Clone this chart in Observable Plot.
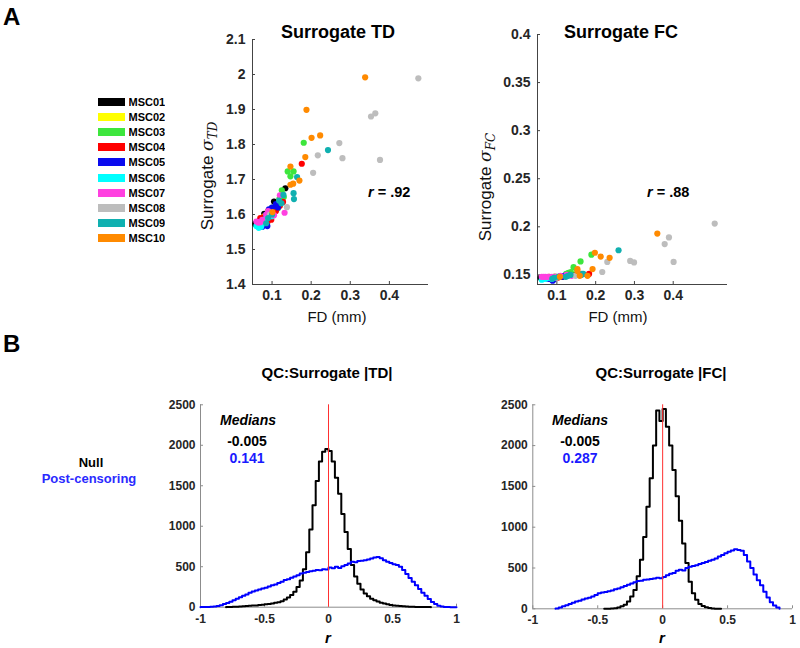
<!DOCTYPE html>
<html><head><meta charset="utf-8">
<script src="https://cdn.jsdelivr.net/npm/d3@7"></script>
<script src="https://cdn.jsdelivr.net/npm/@observablehq/plot@0.6"></script>
<style>
html,body{margin:0;padding:0;background:#fff;}
#page{position:relative;width:800px;height:648px;overflow:hidden;font-family:"Liberation Sans",Arial,sans-serif;background:#fff;}
.panel{position:absolute;}
.panel svg{display:block;max-width:none;}
.msclg-swatch{height:15.2px;padding-bottom:0 !important;}
.msclg-swatch > svg{margin-right:3.5px !important;}
</style></head><body><div id="page"></div><script>
// ---------- data ----------
const subjects = ["MSC01","MSC02","MSC03","MSC04","MSC05","MSC06","MSC07","MSC08","MSC09","MSC10"];
const subjectColors = ["#000000","#ffff00","#3de63d","#ff0000","#0a0aee","#00ffff","#ff40e0","#bdbdbd","#10b0b0","#ff8a00"];
const sessionsPerSubject = [10,10,9,10,10,10,10,10,10,10];

// FD (mm) as plotted in the TD panel, grouped by subject
const fdTD = [
  0.134,0.105,0.057,0.080,0.090,0.070,0.115,0.095,0.082,0.065,
  0.090,0.110,0.120,0.080,0.100,0.085,0.095,0.075,0.105,0.125,
  0.181,0.140,0.155,0.147,0.125,0.119,0.115,0.100,0.130,
  0.176,0.128,0.098,0.078,0.088,0.110,0.070,0.120,0.093,0.083,
  0.100,0.085,0.075,0.088,0.110,0.092,0.080,0.070,0.115,0.087,
  0.066,0.072,0.078,0.085,0.090,0.095,0.070,0.060,0.082,0.100,
  0.132,0.070,0.060,0.075,0.085,0.095,0.105,0.120,0.065,0.090,
  0.474,0.353,0.364,0.272,0.217,0.280,0.376,0.205,0.138,0.095,
  0.243,0.164,0.155,0.156,0.129,0.124,0.118,0.090,0.085,0.100,
  0.338,0.188,0.201,0.223,0.185,0.147,0.170,0.154,0.147,0.101
];
const sigmaTD = [
  1.675,1.637,1.573,1.602,1.610,1.585,1.630,1.595,1.580,1.578,
  1.610,1.625,1.645,1.595,1.605,1.590,1.600,1.585,1.615,1.640,
  1.805,1.723,1.723,1.709,1.669,1.645,1.618,1.620,1.650,
  1.745,1.636,1.585,1.592,1.578,1.610,1.590,1.625,1.600,1.570,
  1.620,1.600,1.565,1.567,1.630,1.615,1.585,1.580,1.620,1.590,
  1.562,1.565,1.575,1.590,1.600,1.605,1.570,1.567,1.585,1.595,
  1.605,1.578,1.580,1.585,1.600,1.598,1.598,1.655,1.577,1.610,
  1.989,1.880,1.889,1.804,1.769,1.761,1.756,1.719,1.621,1.600,
  1.784,1.707,1.661,1.644,1.656,1.632,1.640,1.590,1.575,1.600,
  1.992,1.899,1.819,1.826,1.764,1.737,1.697,1.688,1.685,1.607
];
// FD (mm) as plotted in the FC panel
const fdFC = [
  0.140,0.109,0.058,0.082,0.093,0.071,0.120,0.098,0.084,0.066,
  0.093,0.115,0.125,0.082,0.104,0.087,0.098,0.077,0.109,0.131,
  0.189,0.143,0.161,0.152,0.130,0.124,0.120,0.104,0.136,
  0.183,0.133,0.102,0.080,0.091,0.114,0.071,0.124,0.096,0.085,
  0.104,0.088,0.077,0.091,0.114,0.095,0.082,0.071,0.119,0.089,
  0.067,0.073,0.080,0.087,0.093,0.098,0.071,0.061,0.084,0.104,
  0.138,0.071,0.061,0.077,0.087,0.098,0.109,0.125,0.066,0.093,
  0.507,0.378,0.389,0.289,0.230,0.299,0.401,0.217,0.148,0.099,
  0.259,0.168,0.163,0.164,0.135,0.129,0.123,0.093,0.088,0.104,
  0.359,0.198,0.213,0.236,0.192,0.153,0.179,0.159,0.153,0.108
];
const sigmaFC = [
  0.150,0.148,0.147,0.147,0.148,0.147,0.149,0.147,0.146,0.147,
  0.148,0.148,0.149,0.147,0.148,0.147,0.148,0.147,0.148,0.150,
  0.171,0.158,0.164,0.155,0.152,0.151,0.149,0.148,0.153,
  0.151,0.150,0.147,0.148,0.147,0.148,0.147,0.149,0.148,0.146,
  0.148,0.147,0.146,0.145,0.148,0.147,0.146,0.147,0.149,0.144,
  0.146,0.147,0.147,0.146,0.147,0.148,0.146,0.145,0.147,0.148,
  0.149,0.148,0.148,0.148,0.148,0.148,0.149,0.150,0.148,0.147,
  0.2034,0.182,0.189,0.1645,0.1635,0.163,0.1635,0.153,0.149,0.147,
  0.1756,0.151,0.150,0.151,0.150,0.149,0.148,0.147,0.146,0.148,
  0.193,0.173,0.169,0.1677,0.156,0.156,0.149,0.149,0.154,0.148
];

const fdTicks = [0.1, 0.2, 0.3, 0.4];
const tdTicks = [1.4, 1.5, 1.6, 1.7, 1.8, 1.9, 2, 2.1];
const fcTicks = [0.15, 0.2, 0.25, 0.3, 0.35, 0.4];
const histXTicks = [-1, -0.5, 0, 0.5, 1];
const histYTicks = [0, 500, 1000, 1500, 2000, 2500];

// Histograms (stairs), bin width 0.025
const binWidth = 0.025;
const nullTDStart = -0.8;
const nullTD = [2,4,5,7,9,12,14,17,20,22,26,30,35,40,46,55,62,75,95,120,150,190,250,330,470,680,960,1260,1560,1800,1920,1955,1930,1800,1600,1400,1150,930,720,520,380,290,220,170,135,105,85,70,55,45,35,28,22,18,14,11,9,7,5,4,3,2,1,1];
const postTDStart = -1;
const postTD = [2,3,4,6,10,16,25,38,52,68,85,105,122,140,158,178,195,205,218,230,240,255,270,280,300,315,335,345,365,380,395,415,425,435,445,450,460,455,470,465,490,480,500,485,505,520,540,560,555,570,575,580,590,600,615,620,605,580,560,545,530,520,500,460,410,360,315,270,225,180,140,100,65,38,18,8,3,1,0,0];
const nullFCStart = -0.45;
const nullFC = [1,2,4,8,15,30,50,90,150,230,400,600,880,1250,1600,2000,2430,2300,2450,2230,2000,1700,1380,1080,800,560,330,190,110,60,35,20,10,5,2,1];
const postFCStart = -0.825;
const postFC = [5,15,30,45,60,75,90,100,115,125,135,150,170,190,200,205,215,225,240,250,265,280,295,310,325,340,345,355,360,365,370,380,375,390,410,430,440,465,480,470,500,515,525,535,550,560,575,590,600,615,640,660,680,700,715,730,720,710,660,580,500,420,350,290,210,140,80,40,15];

const mediansTD = ["-0.005", "0.141"];
const mediansFC = ["-0.005", "0.287"];
const corrTD = ".92", corrFC = ".88";

// ---------- helpers ----------
const page = document.getElementById("page");
function place(node, left, top) {
  const d = document.createElement("div");
  d.className = "panel";
  d.style.left = left + "px";
  d.style.top = top + "px";
  d.appendChild(node);
  page.appendChild(d);
}
const pointSubject = subjects.flatMap((s, i) => Array(sessionsPerSubject[i]).fill(s));
const points = pointSubject.map((s, i) => ({subject: s, fdTD: fdTD[i], td: sigmaTD[i], fdFC: fdFC[i], fc: sigmaFC[i]}));

function stairs(start, counts) {
  const pts = [{x: start, y: 0}];
  counts.forEach((c, i) => pts.push({x: start + i * binWidth, y: c}));
  const end = start + counts.length * binWidth;
  pts.push({x: end, y: counts[counts.length - 1]});
  pts.push({x: end, y: 0});
  return pts;
}

const fontA = {fontFamily: "'Liberation Sans', Arial, sans-serif", fontSize: "14px", fontWeight: "bold", color: "#262626", background: "transparent", overflow: "visible"};
const colorScale = {domain: subjects, range: subjectColors};

function scatter({xKey, yKey, xDomain, yDomain, yTicks, width, height, ml, mr, mt, mb}) {
  const fw = width - ml - mr, fh = height - mt - mb;
  return Plot.plot({
    width, height, marginLeft: ml, marginRight: mr, marginTop: mt, marginBottom: mb,
    style: fontA,
    x: {domain: xDomain, label: null},
    y: {domain: yDomain, label: null},
    color: colorScale,
    marks: [
      Plot.ruleX([xDomain[0]], {stroke: "#444"}),
      Plot.ruleY([yDomain[0]], {stroke: "#444"}),
      Plot.tickX(fdTicks, {x: d => d, stroke: "#444", insetTop: fh - 3}),
      Plot.tickY(yTicks, {y: d => d, stroke: "#444", insetRight: fw - 3}),
      Plot.axisX({ticks: fdTicks, tickFormat: d => String(d), tickSize: 0, tickPadding: 6, label: null}),
      Plot.axisY({ticks: yTicks, tickFormat: d => String(d), tickSize: 0, tickPadding: 7, label: null}),
      Plot.dot(points, {x: xKey, y: yKey, fill: "subject", r: 3.1})
    ]
  });
}

place(scatter({xKey: "fdTD", yKey: "td", xDomain: [0.05, 0.5], yDomain: [1.4, 2.1], yTicks: tdTicks,
  width: 250, height: 300, ml: 62, mr: 12, mt: 19, mb: 36}), 190, 20);
place(scatter({xKey: "fdFC", yKey: "fc", xDomain: [0.05, 0.54], yDomain: [0.14, 0.4], yTicks: fcTicks,
  width: 270, height: 320, ml: 67, mr: 13, mt: 19, mb: 51}), 470, 15);

// legend
place(Plot.legend({
  color: {type: "ordinal", domain: subjects, range: subjectColors},
  legend: "swatches", columns: 1, swatchWidth: 27, swatchHeight: 8, className: "msclg",
  style: {fontFamily: "'Liberation Sans', Arial, sans-serif", fontSize: "11px", fontWeight: "bold", color: "#000", width: "90px"}
}), 98, 94);

function hist({nullStart, nullCounts, postStart, postCounts, width, height, ml, mr, mt, mb}) {
  const fw = width - ml - mr, fh = height - mt - mb;
  return Plot.plot({
    width, height, marginLeft: ml, marginRight: mr, marginTop: mt, marginBottom: mb,
    style: {fontFamily: "'Liberation Sans', Arial, sans-serif", fontSize: "12px", fontWeight: "bold", color: "#262626", background: "transparent", overflow: "visible"},
    x: {domain: [-1, 1], label: null},
    y: {domain: [0, 2500], label: null},
    marks: [
      Plot.ruleX([-1], {stroke: "#8c8c8c"}),
      Plot.ruleY([0], {stroke: "#8c8c8c"}),
      Plot.tickX(histXTicks, {x: d => d, stroke: "#8c8c8c", insetTop: fh - 3}),
      Plot.tickY(histYTicks, {y: d => d, stroke: "#8c8c8c", insetRight: fw - 3}),
      Plot.axisX({ticks: histXTicks, tickFormat: d => String(d), tickSize: 0, tickPadding: 7, label: null}),
      Plot.axisY({ticks: histYTicks, tickFormat: d => String(d), tickSize: 0, tickPadding: 5, label: null}),
      Plot.line(stairs(nullStart, nullCounts), {x: "x", y: "y", curve: "step-after", stroke: "#000", strokeWidth: 2}),
      Plot.line(stairs(postStart, postCounts), {x: "x", y: "y", curve: "step-after", stroke: "#0000ff", strokeWidth: 2}),
      Plot.ruleX([0], {stroke: "#ff3030", strokeWidth: 1})
    ]
  });
}
place(hist({nullStart: nullTDStart, nullCounts: nullTD, postStart: postTDStart, postCounts: postTD,
  width: 320, height: 253, ml: 50, mr: 14, mt: 9.3, mb: 41.3}), 150, 395);
place(hist({nullStart: nullFCStart, nullCounts: nullFC, postStart: postFCStart, postCounts: postFC,
  width: 320, height: 253, ml: 52.3, mr: 8, mt: 9.3, mb: 39.7}), 480, 395);

// ---------- text overlay ----------
const ov = d3.create("svg").attr("width", 800).attr("height", 648)
  .style("position", "absolute").style("left", "0px").style("top", "0px").style("pointer-events", "none")
  .style("font-family", "'Liberation Sans', Arial, sans-serif");
function txt(x, y, s, {size = 14, weight = "bold", style = "normal", anchor = "middle", fill = "#000"} = {}) {
  return ov.append("text").attr("x", x).attr("y", y).attr("font-size", size).attr("font-weight", weight)
    .attr("font-style", style).attr("text-anchor", anchor).attr("fill", fill).text(s);
}
txt(3, 25, "A", {size: 24, anchor: "start"});
txt(3, 352, "B", {size: 24, anchor: "start"});
txt(338, 38, "Surrogate TD", {size: 18});
txt(621, 38, "Surrogate FC", {size: 18});
txt(337, 322, "FD (mm)", {size: 15, weight: "normal", fill: "#111"});
txt(618, 322, "FD (mm)", {size: 15, weight: "normal", fill: "#111"});

function ylab(x, y, sub) {
  const t = ov.append("text").attr("transform", `translate(${x},${y}) rotate(-90)`)
    .attr("text-anchor", "middle").attr("font-size", 17).attr("fill", "#111");
  t.append("tspan").text("Surrogate ");
  t.append("tspan").attr("font-family", "'DejaVu Serif', serif").attr("font-style", "italic").text("σ");
  t.append("tspan").attr("font-family", "'DejaVu Serif', serif").attr("font-style", "italic")
    .attr("font-size", 12).attr("dy", 4).text(sub);
}
ylab(213, 176, "TD");
ylab(491, 187, "FC");

function corr(x, y, v) {
  const t = ov.append("text").attr("x", x).attr("y", y).attr("font-size", 14.5).attr("font-weight", "bold").attr("fill", "#000");
  t.append("tspan").attr("font-style", "italic").text("r");
  t.append("tspan").text(" = " + v);
}
corr(368, 197, corrTD);
corr(647, 197, corrFC);

txt(327, 378, "QC:Surrogate |TD|", {size: 15});
txt(661, 378, "QC:Surrogate |FC|", {size: 15});
txt(248, 425, "Medians", {size: 14, style: "italic"});
txt(247, 446, mediansTD[0], {size: 14});
txt(247, 463, mediansTD[1], {size: 14, fill: "#1a1aff"});
txt(580, 425, "Medians", {size: 14, style: "italic"});
txt(580, 446, mediansFC[0], {size: 14});
txt(580, 463, mediansFC[1], {size: 14, fill: "#1a1aff"});
txt(91, 467, "Null", {size: 13});
txt(89, 483, "Post-censoring", {size: 13, fill: "#2a2aff"});
txt(328, 643, "r", {size: 15, style: "italic"});
txt(662, 643, "r", {size: 15, style: "italic"});
page.appendChild(ov.node());
</script></body></html>
